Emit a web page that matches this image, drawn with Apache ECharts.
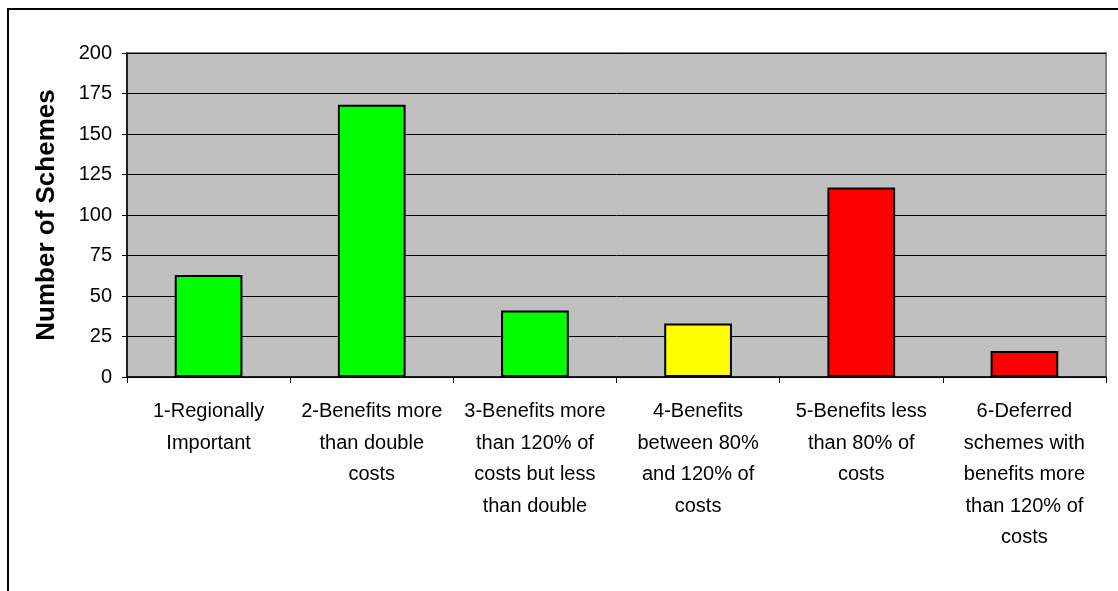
<!DOCTYPE html>
<html>
<head>
<meta charset="utf-8">
<script src="https://cdn.jsdelivr.net/npm/echarts@6/dist/echarts.min.js"></script>
<style>
  html, body { margin: 0; padding: 0; background: #fff; }
  #chart { width: 1118px; height: 591px; position: relative; }
  #frame { position: absolute; left: 7px; top: 8px; width: 1120px; height: 600px;
           border-left: 2px solid #000; border-top: 2px solid #000; pointer-events: none; }
</style>
</head>
<body>
<div style="position: relative; width: 1118px; height: 591px; overflow: hidden">
  <div id="chart"></div>
  <div id="frame"></div>
</div>
<script>
const categories = [
  "1-Regionally\nImportant",
  "2-Benefits more\nthan double\ncosts",
  "3-Benefits more\nthan 120% of\ncosts but less\nthan double",
  "4-Benefits\nbetween 80%\nand 120% of\ncosts",
  "5-Benefits less\nthan 80% of\ncosts",
  "6-Deferred\nschemes with\nbenefits more\nthan 120% of\ncosts"
];
const schemeCounts = [63, 168, 41, 33, 117, 16];
const barColors = ["#00FF00", "#00FF00", "#00FF00", "#FFFF00", "#FF0000", "#FF0000"];

const chart = echarts.init(document.getElementById("chart"), null, {renderer: "canvas"});

chart.setOption({
  animation: false,
  textStyle: {fontFamily: "Liberation Sans, Arial, sans-serif"},
  grid: {
    left: 127, right: 12, top: 53, bottom: 214,
    show: true,
    backgroundColor: "#C0C0C0",
    borderColor: "#808080",
    borderWidth: 2
  },
  xAxis: {
    type: "category",
    data: categories,
    axisLine: {lineStyle: {color: "#000", width: 1.5}},
    axisTick: {show: true, length: 6, lineStyle: {color: "#000"}},
    axisLabel: {
      interval: 0,
      color: "#000",
      fontSize: 20,
      lineHeight: 31.5,
      margin: 19,
      align: "center"
    }
  },
  yAxis: {
    type: "value",
    min: 0,
    max: 200,
    interval: 25,
    name: "Number of Schemes",
    nameLocation: "middle",
    nameGap: 67,
    nameTextStyle: {fontSize: 26, fontWeight: "bold", color: "#000"},
    axisLine: {show: true, lineStyle: {color: "#000", width: 1.5}},
    axisTick: {show: true, length: 5, lineStyle: {color: "#000"}},
    axisLabel: {color: "#000", fontSize: 20, margin: 15},
    splitLine: {lineStyle: {color: "#000", width: 1}}
  },
  series: [{
    type: "bar",
    data: schemeCounts.map((v, i) => ({value: v, itemStyle: {color: barColors[i]}})),
    barWidth: "41.5%",
    itemStyle: {borderColor: "#000", borderWidth: 2}
  }]
});
</script>
</body>
</html>
